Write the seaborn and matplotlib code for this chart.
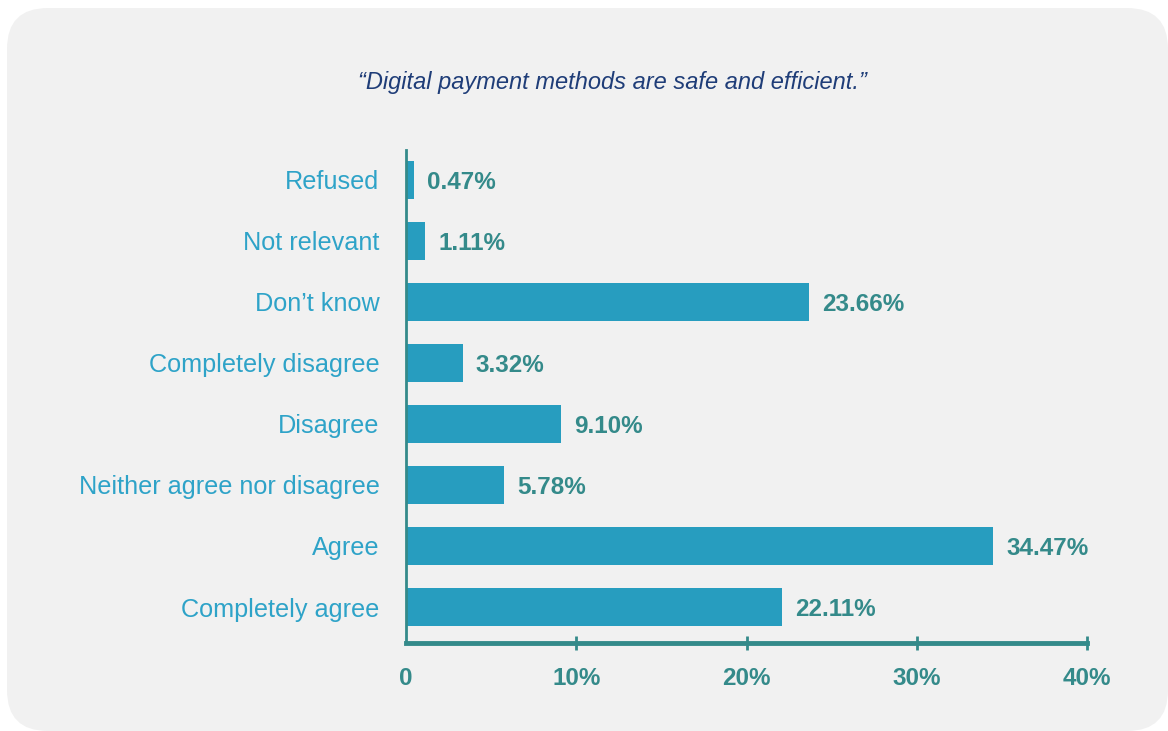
import matplotlib
matplotlib.use("Agg")
import matplotlib.pyplot as plt
from matplotlib.patches import FancyBboxPatch
import seaborn as sns
import pandas as pd

categories = ["Refused", "Not relevant", "Don\u2019t know", "Completely disagree",
              "Disagree", "Neither agree nor disagree", "Agree", "Completely agree"]
values = [0.47, 1.11, 23.66, 3.32, 9.10, 5.78, 34.47, 22.11]
xticks = [0, 10, 20, 30, 40]
xtick_labels = ["0", "10%", "20%", "30%", "40%"]
title = "\u201cDigital payment methods are safe and efficient.\u201d"

sns.set_theme(style="white")
plt.rcParams["font.family"] = ["Liberation Sans", "DejaVu Sans"]

BAR = "#279dbf"
TEAL = "#348a8a"
LBL = "#2ea3c8"
NAVY = "#1f3d78"

fig = plt.figure(figsize=(11.68, 7.31), dpi=100)
fig.patch.set_facecolor("white")
bg = FancyBboxPatch((7 / 1168, 0.0), 1 - 7 / 1168, 1 - 8 / 731,
                    boxstyle="round,pad=0,rounding_size=0.035",
                    transform=fig.transFigure, facecolor="#f1f1f1",
                    edgecolor="none", zorder=-5, mutation_aspect=1168 / 731)
fig.patches.append(bg)

ax = fig.add_axes([406 / 1168, 1 - 643 / 731, (1087 - 406) / 1168, (643 - 150) / 731])
ax.set_facecolor("none")
ax.set_zorder(2)

df = pd.DataFrame({"cat": categories, "val": values})
sns.barplot(data=df, x="val", y="cat", color=BAR, saturation=1, width=0.63,
            linewidth=0, edgecolor="none", ax=ax)

for i, v in enumerate(values):
    ax.annotate(f"{v:.2f}%", xy=(v, i), xytext=(9.5, 0), textcoords="offset points",
                va="center_baseline", ha="left", fontsize=17.5, fontweight="bold",
                color=TEAL)

ax.set_xlim(0, 40)
ax.set_ylim(7.59, -0.49)
ax.set_xticks(xticks)
ax.set_xticklabels(xtick_labels, fontsize=17.5, fontweight="bold", color=TEAL)
ax.tick_params(axis="x", which="major", bottom=True, direction="inout", length=10,
               width=2, color=TEAL, pad=12)
ax.xaxis.get_major_ticks()[0].tick1line.set_visible(False)
ax.tick_params(axis="y", left=False, length=0, pad=19, labelsize=18.2, labelcolor=LBL)
ax.set_xlabel("")
ax.set_ylabel("")
for s in ["top", "right"]:
    ax.spines[s].set_visible(False)
ax.spines["bottom"].set_color(TEAL)
ax.spines["bottom"].set_linewidth(3.5)
ax.spines["left"].set_color(TEAL)
ax.spines["left"].set_linewidth(2)
ax.grid(False)

fig.text(612 / 1168, 1 - 82 / 731, title, ha="center", va="center",
         fontsize=17, fontstyle="italic", color=NAVY)

fig.savefig("out.png", dpi=100, facecolor="white")
